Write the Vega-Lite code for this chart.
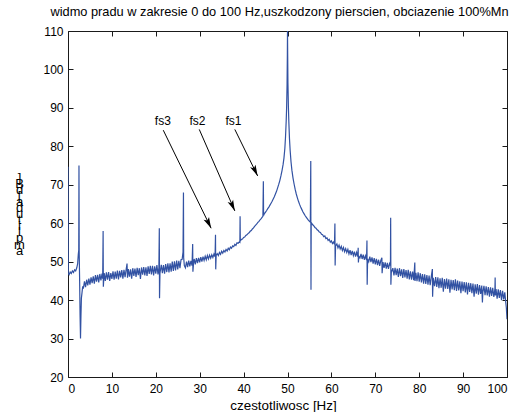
{
"$schema":"https://vega.github.io/schema/vega-lite/v6.json",
"width":439,"height":346,
"autosize":{"type":"none"},
"padding":{"left":68,"top":31,"right":19,"bottom":35},
"background":"white",
"config":{"view":{"stroke":null},"font":"Liberation Sans",
"axis":{"grid":false,"domain":true,"domainColor":"#1a1a1a","domainWidth":1,"tickColor":"#1a1a1a","tickWidth":1,"labelColor":"#000","titleColor":"#000","labelFont":"Liberation Sans","titleFont":"Liberation Sans","labelFontSize":12,"titleFontWeight":"normal","zindex":0}},
"title":{"text":"widmo pradu w zakresie 0 do 100 Hz,uszkodzony pierscien, obciazenie 100%Mn","font":"Liberation Sans","fontSize":12.8,"fontWeight":"normal","color":"#000","anchor":"middle","frame":"group","baseline":"alphabetic","offset":-4,"dx":-8},
"datasets":{
"spec":[
{"f":0,"a":74.7},{"f":0.05,"a":47.0},{"f":0.25,"a":46.6},{"f":0.5,"a":47.3},{"f":0.75,"a":46.9},{"f":1.0,"a":47.6},{"f":1.25,"a":47.2},{"f":1.5,"a":47.9},{"f":1.75,"a":47.6},{"f":2.0,"a":48.4},{"f":2.2,"a":49.5},{"f":2.35,"a":52.0},{"f":2.45,"a":53.0},{"f":2.5,"a":75.0},{"f":2.55,"a":52.5},{"f":2.65,"a":45},{"f":2.75,"a":36},{"f":2.85,"a":30.0},{"f":2.95,"a":36},{"f":3.05,"a":40.5},{"f":3.2,"a":42.0},{"f":3.35,"a":43.6},
{"f":3.5,"a":43.0},{"f":3.75,"a":44.9},{"f":4.0,"a":43.4},{"f":4.25,"a":45.3},{"f":4.5,"a":43.8},{"f":4.75,"a":45.6},{"f":5.0,"a":44.0},{"f":5.25,"a":45.9},{"f":5.5,"a":44.4},{"f":5.75,"a":46.2},{"f":6.0,"a":44.3},{"f":6.25,"a":46.5},{"f":6.5,"a":44.8},{"f":6.75,"a":46.6},{"f":7.0,"a":44.6},{"f":7.25,"a":46.8},{"f":7.5,"a":45.1},{"f":7.75,"a":46.9},{"f":7.9,"a":45.6},{"f":8.0,"a":58.0},{"f":8.05,"a":43.5},{"f":8.15,"a":45.5},{"f":8.25,"a":47.0},{"f":8.5,"a":45.0},{"f":8.75,"a":47.2},{"f":9.0,"a":45.3},{"f":9.25,"a":47.3},{"f":9.5,"a":45.0},{"f":9.75,"a":47.0},{"f":10.0,"a":45.5},{"f":10.25,"a":47.5},{"f":10.5,"a":45.3},{"f":10.75,"a":47.4},{"f":11.0,"a":45.6},{"f":11.25,"a":47.7},{"f":11.5,"a":45.4},{"f":11.75,"a":47.6},{"f":12.0,"a":45.9},{"f":12.25,"a":47.8},{"f":12.5,"a":45.6},{"f":12.75,"a":47.9},{"f":13.0,"a":46.0},{"f":13.25,"a":48.0},{"f":13.45,"a":49.5},{"f":13.55,"a":45.8},{"f":13.75,"a":48.1},{"f":14.0,"a":46.1},{"f":14.25,"a":48.0},{"f":14.5,"a":45.6},{"f":14.75,"a":48.3},{"f":15.0,"a":46.3},{"f":15.25,"a":48.2},{"f":15.5,"a":46.0},{"f":15.75,"a":48.4},{"f":16.0,"a":46.5},{"f":16.25,"a":48.3},{"f":16.5,"a":45.5},{"f":16.75,"a":48.5},{"f":17.0,"a":46.6},{"f":17.25,"a":48.6},{"f":17.5,"a":46.4},{"f":17.75,"a":48.5},{"f":18.0,"a":46.3},{"f":18.25,"a":48.8},{"f":18.5,"a":46.8},{"f":18.75,"a":48.9},{"f":19.0,"a":46.7},{"f":19.25,"a":48.9},{"f":19.5,"a":46.4},{"f":19.75,"a":48.8},{"f":20.0,"a":46.9},{"f":20.25,"a":49.1},{"f":20.5,"a":46.7},{"f":20.7,"a":48.4},{"f":20.8,"a":58.7},{"f":20.85,"a":40.5},{"f":20.95,"a":47.0},{"f":21.25,"a":49.2},{"f":21.5,"a":47.0},{"f":21.75,"a":49.1},{"f":22.0,"a":46.9},{"f":22.25,"a":49.4},{"f":22.5,"a":47.3},{"f":22.75,"a":49.6},{"f":23.0,"a":47.2},{"f":23.25,"a":49.6},{"f":23.5,"a":47.4},{"f":23.75,"a":50.0},{"f":24.0,"a":47.6},{"f":24.25,"a":50.1},{"f":24.5,"a":47.7},{"f":24.75,"a":50.3},{"f":25.0,"a":48.0},{"f":25.25,"a":50.2},{"f":25.5,"a":48.3},{"f":25.75,"a":50.5},{"f":26.0,"a":50.6},{"f":26.2,"a":52.5},{"f":26.3,"a":68.0},{"f":26.35,"a":51.0},{"f":26.5,"a":49.0},{"f":26.75,"a":48.4},{"f":27.0,"a":50.0},{"f":27.25,"a":48.6},{"f":27.5,"a":50.3},{"f":27.75,"a":48.8},{"f":28.0,"a":50.2},{"f":28.25,"a":49.0},{"f":28.4,"a":54.6},{"f":28.45,"a":47.4},{"f":28.6,"a":49.6},{"f":28.75,"a":50.7},{"f":29.0,"a":49.3},{"f":29.25,"a":50.9},{"f":29.5,"a":49.6},{"f":29.75,"a":51.0},{"f":30.0,"a":49.8},{"f":30.25,"a":51.2},{"f":30.5,"a":50.0},{"f":30.75,"a":51.3},{"f":31.0,"a":50.3},{"f":31.25,"a":51.4},{"f":31.5,"a":50.5},{"f":31.75,"a":51.6},{"f":32.0,"a":50.7},{"f":32.25,"a":51.7},{"f":32.5,"a":50.9},{"f":32.75,"a":51.8},{"f":33.0,"a":51.1},{"f":33.25,"a":52.0},{"f":33.5,"a":51.3},{"f":33.6,"a":57.0},{"f":33.65,"a":48.0},{"f":33.75,"a":51.6},{"f":34.0,"a":52.1},{"f":34.25,"a":51.6},{"f":34.5,"a":52.4},{"f":34.75,"a":51.9},{"f":35.0,"a":52.7},{"f":35.25,"a":52.2},{"f":35.5,"a":52.9},{"f":35.75,"a":52.5},{"f":36.0,"a":53.2},{"f":36.25,"a":52.8},{"f":36.5,"a":53.5},{"f":36.75,"a":53.1},{"f":37.0,"a":53.8},{"f":37.25,"a":53.5},{"f":37.5,"a":54.1},{"f":37.75,"a":53.9},{"f":38.0,"a":54.5},{"f":38.25,"a":54.2},{"f":38.5,"a":54.9},{"f":38.75,"a":54.8},{"f":39.0,"a":55.1},{"f":39.15,"a":55.0},{"f":39.2,"a":61.8},{"f":39.25,"a":55.4},{"f":39.5,"a":55.8},{"f":39.75,"a":55.9},{"f":40.0,"a":56.3},{"f":40.25,"a":56.4},{"f":40.5,"a":56.8},{"f":40.75,"a":57.0},{"f":41.0,"a":57.3},{"f":41.25,"a":57.5},{"f":41.5,"a":57.9},{"f":41.75,"a":58.1},{"f":42.0,"a":58.5},{"f":42.25,"a":58.8},{"f":42.5,"a":59.2},{"f":42.75,"a":59.5},{"f":43.0,"a":59.8},{"f":43.25,"a":60.2},{"f":43.5,"a":60.5},{"f":43.75,"a":60.9},{"f":44.0,"a":61.2},{"f":44.25,"a":61.6},{"f":44.4,"a":61.8},{"f":44.5,"a":70.9},{"f":44.55,"a":62.0},{"f":44.75,"a":62.5},{"f":45.0,"a":62.9},{"f":45.25,"a":63.3},{"f":45.5,"a":63.8},{"f":45.75,"a":64.2},{"f":46.0,"a":64.7},{"f":46.25,"a":65.2},{"f":46.5,"a":65.7},{"f":46.75,"a":66.3},{"f":47.0,"a":66.9},{"f":47.25,"a":67.6},{"f":47.5,"a":68.3},{"f":47.75,"a":69.2},{"f":48.0,"a":70.1},{"f":48.25,"a":71.1},{"f":48.5,"a":72.3},{"f":48.75,"a":73.7},{"f":49.0,"a":75.3},{"f":49.2,"a":77.0},{"f":49.4,"a":79.5},{"f":49.55,"a":82.5},{"f":49.7,"a":86.5},{"f":49.8,"a":90.0},{"f":49.9,"a":96.0},{"f":49.97,"a":104},{"f":50.0,"a":110},{"f":50.04,"a":104},{"f":50.1,"a":96.5},{"f":50.2,"a":90.5},{"f":50.3,"a":86.5},{"f":50.45,"a":82.0},{"f":50.6,"a":79.0},{"f":50.8,"a":76.0},{"f":51.0,"a":73.8},{"f":51.25,"a":71.8},{"f":51.5,"a":70.2},{"f":51.75,"a":68.8},{"f":52.0,"a":67.6},{"f":52.25,"a":66.6},{"f":52.5,"a":65.7},{"f":52.75,"a":64.9},{"f":53.0,"a":64.2},{"f":53.25,"a":63.6},{"f":53.5,"a":63.0},{"f":53.75,"a":62.5},{"f":54.0,"a":62.0},{"f":54.25,"a":61.6},{"f":54.5,"a":61.2},{"f":54.75,"a":60.8},{"f":55.0,"a":60.5},{"f":55.2,"a":60.3},{"f":55.3,"a":76.2},{"f":55.35,"a":42.7},{"f":55.4,"a":59.8},{"f":55.5,"a":60.0},{"f":55.75,"a":59.6},{"f":56.0,"a":59.3},{"f":56.25,"a":58.9},{"f":56.5,"a":58.7},{"f":56.75,"a":58.3},{"f":57.0,"a":58.1},{"f":57.25,"a":57.7},{"f":57.5,"a":57.6},{"f":57.75,"a":57.1},{"f":58.0,"a":57.0},{"f":58.25,"a":56.5},{"f":58.5,"a":56.7},{"f":58.75,"a":56.0},{"f":59.0,"a":56.2},{"f":59.25,"a":55.5},{"f":59.5,"a":55.8},{"f":59.75,"a":55.1},{"f":60.0,"a":55.4},{"f":60.25,"a":54.7},{"f":60.5,"a":55.1},{"f":60.7,"a":54.5},{"f":60.8,"a":59.9},{"f":60.85,"a":49.0},{"f":60.95,"a":54.1},{"f":61.25,"a":54.6},{"f":61.5,"a":53.6},{"f":61.75,"a":54.3},{"f":62.0,"a":53.3},{"f":62.25,"a":54.0},{"f":62.5,"a":52.9},{"f":62.75,"a":53.7},{"f":63.0,"a":52.6},{"f":63.25,"a":53.4},{"f":63.5,"a":52.4},{"f":63.75,"a":53.2},{"f":64.0,"a":52.0},{"f":64.25,"a":53.0},{"f":64.5,"a":51.7},{"f":64.75,"a":52.8},{"f":65.0,"a":51.6},{"f":65.25,"a":52.6},{"f":65.5,"a":51.3},{"f":65.75,"a":52.4},{"f":66.0,"a":51.3},{"f":66.1,"a":53.6},{"f":66.15,"a":49.8},{"f":66.25,"a":51.4},{"f":66.5,"a":51.0},{"f":66.75,"a":52.0},{"f":67.0,"a":50.7},{"f":67.25,"a":51.8},{"f":67.5,"a":50.5},{"f":67.75,"a":51.5},{"f":68.0,"a":50.4},{"f":68.1,"a":55.5},{"f":68.15,"a":44.0},{"f":68.25,"a":50.7},{"f":68.5,"a":50.0},{"f":68.75,"a":51.3},{"f":69.0,"a":49.9},{"f":69.25,"a":51.1},{"f":69.5,"a":49.5},{"f":69.75,"a":50.9},{"f":70.0,"a":49.3},{"f":70.25,"a":50.7},{"f":70.5,"a":49.1},{"f":70.75,"a":50.5},{"f":71.0,"a":48.9},{"f":71.25,"a":50.3},{"f":71.5,"a":51.0},{"f":71.55,"a":47.0},{"f":71.75,"a":49.9},{"f":72.0,"a":48.4},{"f":72.25,"a":49.8},{"f":72.5,"a":48.2},{"f":72.75,"a":49.7},{"f":73.0,"a":48.1},{"f":73.25,"a":49.5},{"f":73.45,"a":49.0},{"f":73.5,"a":61.4},{"f":73.55,"a":44.0},{"f":73.65,"a":47.2},
{"f":74.0,"a":48.3},{"f":74.25,"a":46.4},{"f":74.5,"a":48.4},{"f":74.75,"a":46.5},{"f":75.0,"a":48.2},{"f":75.25,"a":46.0},{"f":75.5,"a":48.3},{"f":75.75,"a":46.2},{"f":76.0,"a":48.0},{"f":76.25,"a":45.8},{"f":76.5,"a":48.1},{"f":76.75,"a":45.9},{"f":77.0,"a":47.8},{"f":77.25,"a":45.6},{"f":77.5,"a":47.9},{"f":77.75,"a":45.4},{"f":78.0,"a":47.5},{"f":78.25,"a":45.3},{"f":78.5,"a":47.4},{"f":78.75,"a":45.2},{"f":79.0,"a":49.8},{"f":79.05,"a":45.0},{"f":79.25,"a":47.1},{"f":79.5,"a":44.9},{"f":79.75,"a":47.2},{"f":80.0,"a":44.8},{"f":80.25,"a":47.0},{"f":80.5,"a":44.6},{"f":80.75,"a":46.8},{"f":81.0,"a":44.3},{"f":81.25,"a":46.7},{"f":81.5,"a":44.2},{"f":81.75,"a":46.5},{"f":82.0,"a":44.0},{"f":82.25,"a":46.4},{"f":82.5,"a":43.9},{"f":82.75,"a":46.1},{"f":83.0,"a":48.1},{"f":83.05,"a":40.9},{"f":83.2,"a":45.8},{"f":83.5,"a":43.6},{"f":83.75,"a":46.0},{"f":84.0,"a":43.4},{"f":84.25,"a":45.9},{"f":84.5,"a":43.1},{"f":84.75,"a":45.7},{"f":85.0,"a":43.2},{"f":85.25,"a":45.8},{"f":85.5,"a":42.2},{"f":85.75,"a":45.5},{"f":86.0,"a":43.0},{"f":86.25,"a":45.6},{"f":86.5,"a":42.9},{"f":86.75,"a":45.4},{"f":87.0,"a":41.9},{"f":87.25,"a":45.3},{"f":87.5,"a":42.8},{"f":87.75,"a":45.2},{"f":88.0,"a":42.6},{"f":88.25,"a":45.4},{"f":88.5,"a":42.4},{"f":88.75,"a":45.1},{"f":89.0,"a":42.5},{"f":89.25,"a":44.9},{"f":89.5,"a":41.8},{"f":89.75,"a":44.8},{"f":90.0,"a":42.3},{"f":90.25,"a":44.7},{"f":90.5,"a":42.0},{"f":90.75,"a":44.6},{"f":91.0,"a":41.5},{"f":91.25,"a":44.5},{"f":91.5,"a":42.1},{"f":91.75,"a":44.4},{"f":92.0,"a":41.8},{"f":92.25,"a":44.3},{"f":92.5,"a":40.9},{"f":92.75,"a":44.1},{"f":93.0,"a":41.7},{"f":93.25,"a":44.2},{"f":93.5,"a":41.4},{"f":93.75,"a":43.9},{"f":94.0,"a":41.6},{"f":94.25,"a":43.8},{"f":94.4,"a":39.4},{"f":94.5,"a":42.0},{"f":94.75,"a":43.7},{"f":95.0,"a":41.3},{"f":95.25,"a":43.6},{"f":95.5,"a":41.2},{"f":95.75,"a":43.4},{"f":96.0,"a":40.9},{"f":96.25,"a":43.3},{"f":96.5,"a":41.1},{"f":96.75,"a":43.2},{"f":97.0,"a":40.8},{"f":97.25,"a":43.0},{"f":97.3,"a":45.9},{"f":97.35,"a":41.2},{"f":97.5,"a":42.9},{"f":97.75,"a":40.4},{"f":98.0,"a":42.8},{"f":98.25,"a":40.6},{"f":98.5,"a":42.6},{"f":98.75,"a":40.0},{"f":99.0,"a":42.4},{"f":99.25,"a":40.2},{"f":99.5,"a":42.0},{"f":99.7,"a":39.6},{"f":99.85,"a":38.0},{"f":100.0,"a":35.0}
],
"arrows":[
{"lab":"fs3","tx":21.6,"ty":86.7,"f1":21.7,"a1":84.2,"f2":32.6,"a2":58.7},
{"lab":"fs2","tx":29.5,"ty":86.7,"f1":29.9,"a1":84.4,"f2":38.0,"a2":63.2},
{"lab":"fs1","tx":37.7,"ty":86.7,"f1":38.0,"a1":84.4,"f2":43.2,"a2":72.3}
]
},
"layer":[
{"data":{"name":"spec"},
 "mark":{"type":"line","color":"#3252a3","strokeWidth":1.2,"clip":true},
 "encoding":{
  "x":{"field":"f","type":"quantitative","scale":{"domain":[0,100],"nice":false,"zero":false},
       "axis":{"orient":"bottom","title":"czestotliwosc [Hz]","titleFontSize":13.4,"titleX":215,"titleY":32,"titleBaseline":"alphabetic","titleAnchor":null,"tickSize":-5,"labelPadding":11,"values":[0,10,20,30,40,50,60,70,80,90,100]}},
  "y":{"field":"a","type":"quantitative","scale":{"domain":[20,110],"nice":false,"zero":false},
       "axis":{"orient":"left","title":["]","B","d","["," ","a","d","u","t","i","l","p","m","a"],"titleAngle":0,"titleFontSize":13,"titleLineHeight":6.1,"titleX":-49,"titleY":140,"titleAlign":"center","titleBaseline":"top","tickSize":-5,"labelPadding":10,"values":[20,30,40,50,60,70,80,90,100,110]}}
 }},
{"data":{"name":"arrows"},
 "mark":{"type":"rule","color":"#000","strokeWidth":1},
 "encoding":{
  "x":{"field":"f1","type":"quantitative","axis":{"orient":"top","labels":false,"title":null,"tickSize":-5,"values":[0,10,20,30,40,50,60,70,80,90,100]}},
  "y":{"field":"a1","type":"quantitative","axis":{"orient":"right","labels":false,"title":null,"tickSize":-5,"values":[20,30,40,50,60,70,80,90,100,110]}},
  "x2":{"field":"f2"},"y2":{"field":"a2"}
 }},
{"data":{"name":"arrows"},"transform":[{"filter":"datum.lab == 'fs3'"}],
 "mark":{"type":"point","shape":"M0,0L-0.55,2L0,1.55L0.55,2Z","filled":true,"color":"#000","opacity":1,"size":121,"angle":154},
 "encoding":{"x":{"field":"f2","type":"quantitative","axis":null},"y":{"field":"a2","type":"quantitative","axis":null}}},
{"data":{"name":"arrows"},"transform":[{"filter":"datum.lab == 'fs2'"}],
 "mark":{"type":"point","shape":"M0,0L-0.55,2L0,1.55L0.55,2Z","filled":true,"color":"#000","opacity":1,"size":121,"angle":156},
 "encoding":{"x":{"field":"f2","type":"quantitative","axis":null},"y":{"field":"a2","type":"quantitative","axis":null}}},
{"data":{"name":"arrows"},"transform":[{"filter":"datum.lab == 'fs1'"}],
 "mark":{"type":"point","shape":"M0,0L-0.55,2L0,1.55L0.55,2Z","filled":true,"color":"#000","opacity":1,"size":121,"angle":154},
 "encoding":{"x":{"field":"f2","type":"quantitative","axis":null},"y":{"field":"a2","type":"quantitative","axis":null}}},
{"data":{"name":"arrows"},
 "mark":{"type":"text","font":"Liberation Sans","fontSize":12,"color":"#000","align":"center","baseline":"middle"},
 "encoding":{"x":{"field":"tx","type":"quantitative","axis":null},"y":{"field":"ty","type":"quantitative","axis":null},"text":{"field":"lab"}}}
],
"resolve":{"axis":{"x":"independent","y":"independent"}}
}
